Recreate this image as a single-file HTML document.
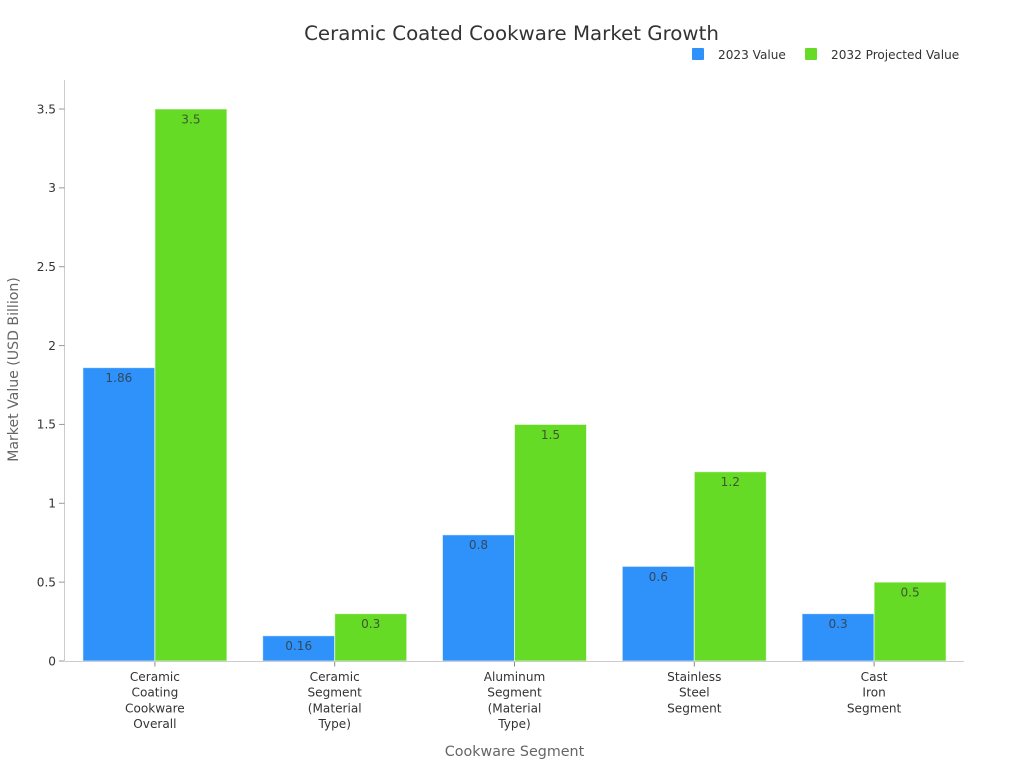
<!DOCTYPE html>
<html lang="en">
<head>
<meta charset="utf-8">
<title>Ceramic Coated Cookware Market Growth</title>
<style>
html,body{margin:0;padding:0;background:#fff;width:1024px;height:768px;overflow:hidden}
svg{display:block}
text{font-family:"DejaVu Sans","Liberation Sans",sans-serif}
</style>
</head>
<body>
<svg id="chart" xmlns="http://www.w3.org/2000/svg" width="1024" height="768" viewBox="0 0 1024 768">
  <rect x="0" y="0" width="1024" height="768" fill="#ffffff"/>
  <text x="511.5" y="40" text-anchor="middle" font-size="19.8" fill="#333333">Ceramic Coated Cookware Market Growth</text>
  <g id="legend">
    <g>
      <rect x="692" y="48" width="12" height="12" rx="1" fill="#2e92fa"/>
      <text x="718" y="59" font-size="12.1" fill="#333333">2023 Value</text>
    </g>
    <g>
      <rect x="805" y="48" width="12" height="12" rx="1" fill="#66db26"/>
      <text x="831" y="59" font-size="12.1" fill="#333333">2032 Projected Value</text>
    </g>
  </g>
  <g id="bars"></g>
  <g id="yaxis"></g>
  <g id="xaxis"></g>
  <g id="values"></g>
  <text transform="translate(18,369.5) rotate(-90)" text-anchor="middle" font-size="14.1" fill="#666666">Market Value (USD Billion)</text>
  <text x="514.5" y="756" text-anchor="middle" font-size="14.3" fill="#666666">Cookware Segment</text>
</svg>
<script>
const categories = [
  ["Ceramic", "Coating", "Cookware", "Overall"],
  ["Ceramic", "Segment", "(Material", "Type)"],
  ["Aluminum", "Segment", "(Material", "Type)"],
  ["Stainless", "Steel", "Segment"],
  ["Cast", "Iron", "Segment"]
];
const values2023 = [1.86, 0.16, 0.8, 0.6, 0.3];
const values2032 = [3.5, 0.3, 1.5, 1.2, 0.5];
const yTicks = [0, 0.5, 1, 1.5, 2, 2.5, 3, 3.5];

const NS = 'http://www.w3.org/2000/svg';
const plotLeft = 65, plotRight = 964, plotTop = 80, plotBottom = 661;
const yMax = 3.5, yMaxPixel = 109;
const bandWidth = (plotRight - plotLeft) / categories.length;
const barWidth = 72;

function yScale(v) { return plotBottom - (v / yMax) * (plotBottom - yMaxPixel); }
function xCenter(i) { return plotLeft + bandWidth * (i + 0.5); }
function make(tag, attrs, parent, content) {
  const el = document.createElementNS(NS, tag);
  for (const k in attrs) el.setAttribute(k, attrs[k]);
  if (content !== undefined) el.textContent = content;
  parent.appendChild(el);
  return el;
}

const barsG = document.getElementById('bars');
const yG = document.getElementById('yaxis');
const xG = document.getElementById('xaxis');
const valG = document.getElementById('values');

function drawSeries(series, offset, fill, key) {
  series.forEach(function (v, i) {
    const x = xCenter(i) + offset;
    const y = yScale(v);
    const bar = make('rect', { x: x, y: y, width: barWidth, height: plotBottom - y, fill: fill, stroke: '#ffffff', 'stroke-opacity': 0.6, 'stroke-width': 1 }, barsG);
    
    
    const label = make('text', { x: x + barWidth / 2, y: y + 14.4, 'text-anchor': 'middle', 'font-size': 12.1, fill: '#333333', 'fill-opacity': 0.78 }, valG, String(v));
    
    
  });
}
drawSeries(values2023, -barWidth, '#2e92fa', '2023');
drawSeries(values2032, 0, '#66db26', '2032');

const yLine = make('line', { x1: 64.5, x2: 64.5, y1: plotTop, y2: plotBottom, stroke: '#cccccc', 'stroke-width': 1 }, yG);


yTicks.forEach(function (t, i) {
  const y = yScale(t);
  const tick = make('line', { x1: 59, x2: 64.5, y1: y, y2: y, stroke: '#999999', 'stroke-width': 1 }, yG);
  
  
  const label = make('text', { x: 56, y: y + 4.3, 'text-anchor': 'end', 'font-size': 12.1, fill: '#333333' }, yG, String(t));
  
  
});

const xLine = make('line', { x1: plotLeft, x2: plotRight, y1: plotBottom + 0.5, y2: plotBottom + 0.5, stroke: '#cccccc', 'stroke-width': 1 }, xG);


categories.forEach(function (lines, i) {
  const x = xCenter(i);
  const tick = make('line', { x1: x, x2: x, y1: plotBottom + 1, y2: plotBottom + 5.5, stroke: '#888888', 'stroke-width': 1 }, xG);
  
  
  const label = make('text', { 'text-anchor': 'middle', 'font-size': 12.1, fill: '#333333' }, xG);
  
  
  lines.forEach(function (line, j) {
    make('tspan', { x: x, y: 681 + j * 15.7 }, label, line);
  });
});
</script>
</body>
</html>
